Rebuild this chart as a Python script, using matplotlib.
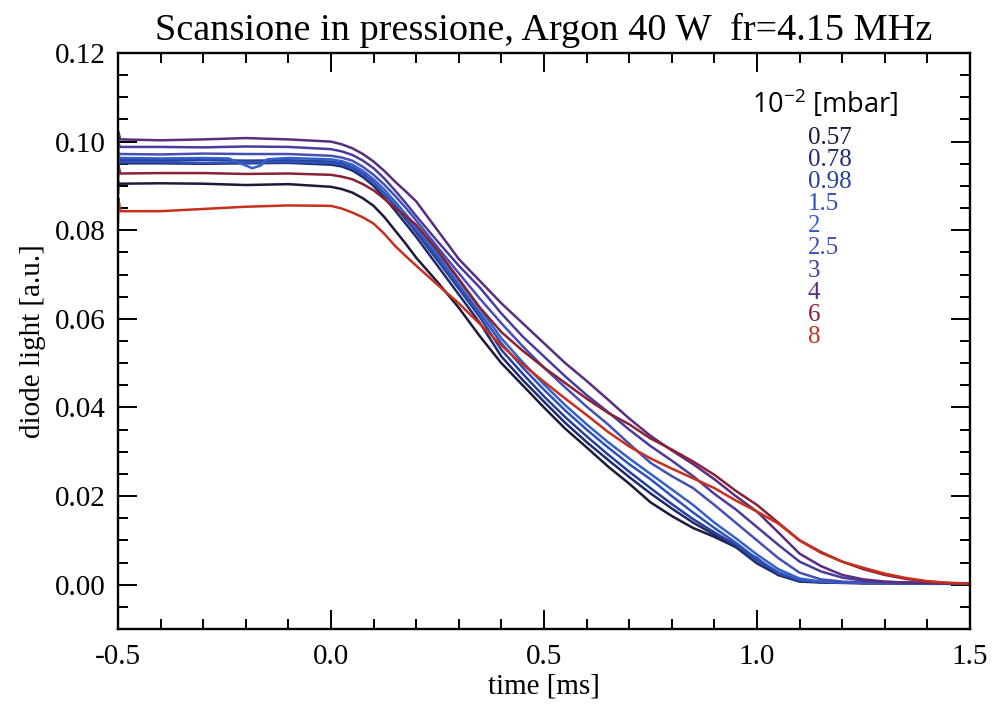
import matplotlib
matplotlib.use("Agg")
import matplotlib.pyplot as plt
from matplotlib.ticker import MultipleLocator

# Pressure scan, Argon 40 W, fr = 4.15 MHz: diode light vs time
pressures = ["0.57", "0.78", "0.98", "1.5", "2", "2.5", "3", "4", "6", "8"]
colors = ["#1b1b3b", "#1e2c6e", "#27409a", "#2f52b8", "#3560cc",
          "#4450b8", "#4a3c9c", "#5a2d80", "#8a2236", "#c8301e"]

# sample times shared by most traces [ms]
t_common = [-0.5, -0.499, -0.495, -0.4, -0.3, -0.2, -0.1, 0.0, 0.025, 0.05, 0.075, 0.1, 0.125,
            0.15, 0.175, 0.2, 0.25, 0.3, 0.35, 0.4, 0.45, 0.5, 0.55, 0.6, 0.65, 0.7, 0.75, 0.8,
            0.85, 0.9, 0.95, 1.0, 1.05, 1.1, 1.15, 1.2, 1.25, 1.3, 1.35, 1.4, 1.45, 1.5]

# 0.57e-2 mbar
v_p057 = [0.0880, 0.0908, 0.0905, 0.0906, 0.0905, 0.0902, 0.0904, 0.0898, 0.0893, 0.0885, 0.0872,
          0.0855, 0.0830, 0.0800, 0.0770, 0.0738, 0.0683, 0.0625, 0.0560, 0.0500, 0.0450, 0.0400,
          0.0352, 0.0310, 0.0267, 0.0228, 0.0186, 0.0155, 0.0128, 0.0108, 0.0085, 0.0060, 0.0022,
          0.0007, 0.0005, 0.0004, 0.0003, 0.0003, 0.0003, 0.0002, 0.0002, 0.0002]
v_p078 = [0.0930, 0.0960, 0.0951, 0.0951, 0.0950, 0.0951, 0.0952, 0.0948, 0.0944, 0.0935, 0.0920,
          0.0900, 0.0874, 0.0845, 0.0815, 0.0785, 0.0720, 0.0655, 0.0590, 0.0515, 0.0462, 0.0413,
          0.0365, 0.0322, 0.0282, 0.0243, 0.0206, 0.0172, 0.0140, 0.0113, 0.0085, 0.0048, 0.0022,
          0.0008, 0.0006, 0.0005, 0.0004, 0.0004, 0.0003, 0.0003, 0.0002, 0.0002]
v_p098 = [0.0975, 0.0965, 0.0958, 0.0958, 0.0959, 0.0957, 0.0958, 0.0955, 0.0951, 0.0942, 0.0928,
          0.0908, 0.0883, 0.0855, 0.0825, 0.0795, 0.0732, 0.0668, 0.0603, 0.0530, 0.0476, 0.0425,
          0.0378, 0.0335, 0.0294, 0.0255, 0.0218, 0.0182, 0.0148, 0.0118, 0.0090, 0.0055, 0.0025,
          0.0009, 0.0006, 0.0005, 0.0004, 0.0004, 0.0003, 0.0003, 0.0002, 0.0002]
v_p15 = [0.0940, 0.0958, 0.0954, 0.0954, 0.0952, 0.0953, 0.0954, 0.0952, 0.0948, 0.0940, 0.0926,
         0.0907, 0.0883, 0.0857, 0.0829, 0.0800, 0.0740, 0.0676, 0.0612, 0.0545, 0.0490, 0.0440,
         0.0393, 0.0350, 0.0310, 0.0272, 0.0238, 0.0200, 0.0163, 0.0128, 0.0095, 0.0058, 0.0028,
         0.0010, 0.0007, 0.0005, 0.0004, 0.0004, 0.0003, 0.0003, 0.0002, 0.0002]

# the 2e-2 mbar trace has a small dip on its plateau
t_p2 = [-0.5, -0.499, -0.495, -0.4, -0.3, -0.24, -0.21, -0.185, -0.165, -0.15, -0.1, 0.0, 0.025,
        0.05, 0.075, 0.1, 0.125, 0.15, 0.175, 0.2, 0.25, 0.3, 0.35, 0.4, 0.45, 0.5, 0.55, 0.6,
        0.65, 0.7, 0.75, 0.8, 0.85, 0.9, 0.95, 1.0, 1.05, 1.1, 1.15, 1.2, 1.3, 1.4, 1.5]
v_p2 = [0.0950, 0.0968, 0.0963, 0.0962, 0.0963, 0.0962, 0.0950, 0.0940, 0.0946, 0.0960, 0.0963,
        0.0960, 0.0956, 0.0948, 0.0934, 0.0915, 0.0892, 0.0865, 0.0837, 0.0808, 0.0748, 0.0686,
        0.0622, 0.0556, 0.0502, 0.0452, 0.0405, 0.0362, 0.0322, 0.0285, 0.0250, 0.0215, 0.0180,
        0.0140, 0.0105, 0.0068, 0.0035, 0.0014, 0.0007, 0.0005, 0.0004, 0.0003, 0.0002]

v_p25 = [0.0990, 0.0975, 0.0972, 0.0971, 0.0973, 0.0972, 0.0972, 0.0968, 0.0964, 0.0957, 0.0943,
         0.0925, 0.0903, 0.0878, 0.0851, 0.0822, 0.0762, 0.0703, 0.0645, 0.0590, 0.0538, 0.0490,
         0.0445, 0.0402, 0.0362, 0.0318, 0.0275, 0.0245, 0.0218, 0.0180, 0.0140, 0.0100, 0.0060,
         0.0027, 0.0012, 0.0007, 0.0005, 0.0004, 0.0004, 0.0003, 0.0003, 0.0002]
v_p3 = [0.0970, 0.0995, 0.0988, 0.0988, 0.0987, 0.0989, 0.0988, 0.0983, 0.0978, 0.0970, 0.0957,
        0.0940, 0.0917, 0.0890, 0.0862, 0.0832, 0.0775, 0.0720, 0.0670, 0.0612, 0.0560, 0.0515,
        0.0470, 0.0428, 0.0390, 0.0350, 0.0313, 0.0280, 0.0245, 0.0205, 0.0170, 0.0130, 0.0090,
        0.0052, 0.0030, 0.0016, 0.0009, 0.0006, 0.0005, 0.0004, 0.0003, 0.0002]
v_p4 = [0.0985, 0.1022, 0.1005, 0.1003, 0.1005, 0.1008, 0.1005, 0.1000, 0.0994, 0.0985, 0.0972,
        0.0955, 0.0934, 0.0910, 0.0888, 0.0865, 0.0800, 0.0735, 0.0685, 0.0635, 0.0590, 0.0545,
        0.0500, 0.0460, 0.0418, 0.0375, 0.0336, 0.0303, 0.0272, 0.0238, 0.0200, 0.0165, 0.0118,
        0.0070, 0.0042, 0.0022, 0.0012, 0.0007, 0.0005, 0.0004, 0.0003, 0.0002]
v_p6 = [0.0900, 0.0948, 0.0928, 0.0929, 0.0929, 0.0927, 0.0928, 0.0925, 0.0921, 0.0915, 0.0904,
        0.0890, 0.0871, 0.0850, 0.0832, 0.0812, 0.0755, 0.0690, 0.0625, 0.0570, 0.0528, 0.0490,
        0.0455, 0.0420, 0.0388, 0.0362, 0.0330, 0.0305, 0.0278, 0.0248, 0.0212, 0.0180, 0.0140,
        0.0100, 0.0074, 0.0052, 0.0035, 0.0022, 0.0013, 0.0007, 0.0004, 0.0003]
v_p8 = [0.0815, 0.0872, 0.0843, 0.0843, 0.0848, 0.0853, 0.0856, 0.0855, 0.0849, 0.0840, 0.0829,
        0.0815, 0.0792, 0.0765, 0.0742, 0.0720, 0.0677, 0.0635, 0.0588, 0.0540, 0.0497, 0.0458,
        0.0420, 0.0383, 0.0345, 0.0312, 0.0285, 0.0262, 0.0240, 0.0218, 0.0190, 0.0165, 0.0138,
        0.0100, 0.0072, 0.0052, 0.0038, 0.0025, 0.0015, 0.0008, 0.0004, 0.0002]

series_t = [t_common, t_common, t_common, t_common, t_p2, t_common, t_common, t_common,
            t_common, t_common]
series_v = [v_p057, v_p078, v_p098, v_p15, v_p2, v_p25, v_p3, v_p4, v_p6, v_p8]

x_ticks = [-0.5, 0.0, 0.5, 1.0, 1.5]
x_ticklabels = ["-0.5", "0.0", "0.5", "1.0", "1.5"]
y_ticks = [0.00, 0.02, 0.04, 0.06, 0.08, 0.10, 0.12]
y_ticklabels = ["0.00", "0.02", "0.04", "0.06", "0.08", "0.10", "0.12"]

serif = ["Liberation Serif", "DejaVu Serif"]

fig = plt.figure(figsize=(9.93, 7.04), dpi=100)
ax = fig.add_axes([118 / 993, 75 / 704, 852 / 993, 576 / 704])

for t, v, c in zip(series_t, series_v, colors):
    ax.plot(t, v, color=c, lw=1.8, solid_joinstyle="round", solid_capstyle="butt")

ax.set_xlim(-0.5, 1.5)
ax.set_ylim(-0.01, 0.12)
ax.set_xticks(x_ticks)
ax.set_xticklabels(x_ticklabels)
ax.set_yticks(y_ticks)
ax.set_yticklabels(y_ticklabels)
ax.xaxis.set_minor_locator(MultipleLocator(0.1))
ax.yaxis.set_minor_locator(MultipleLocator(0.005))
ax.tick_params(which="both", direction="in", top=True, right=True, width=1.4, color="black")
ax.tick_params(which="major", length=14, labelsize=21)
ax.tick_params(axis="x", which="major", pad=11)
ax.tick_params(axis="y", which="major", pad=9)
ax.tick_params(which="minor", length=7)
for lab in ax.get_xticklabels() + ax.get_yticklabels():
    lab.set_family(serif)
for sp in ax.spines.values():
    sp.set_linewidth(1.7)

ax.set_xlabel("time [ms]", fontsize=21, family=serif, labelpad=2)
ax.set_ylabel("diode light [a.u.]", fontsize=21, family=serif, labelpad=6)
ax.set_title("Scansione in pressione, Argon 40 W  fr=4.15 MHz", fontsize=27.5,
             family=serif, pad=9)

# pressure legend
fig.text(752 / 993, 1 - 104 / 704, r"10$^{\mathregular{-2}}$ [mbar]", fontsize=19.5,
         family=["Open Sans", "DejaVu Sans"], va="center", ha="left")
for i, (p, c) in enumerate(zip(pressures, colors)):
    fig.text(808 / 993, 1 - (138 + i * 22.1) / 704, p, fontsize=18, family=serif,
             color=c, va="center", ha="left")

fig.savefig("out.png", dpi=100)
